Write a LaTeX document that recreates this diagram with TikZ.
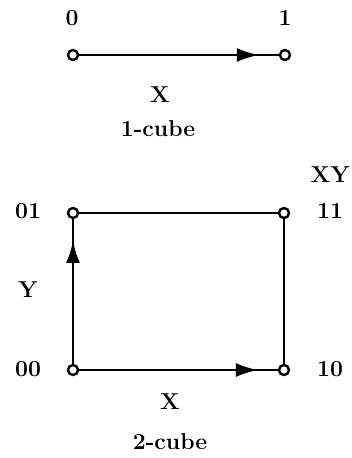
\documentclass[tikz,border=0pt]{standalone}
\usetikzlibrary{arrows.meta,decorations.markings}

\begin{document}
\begin{tikzpicture}[
    x=1pt, y=-1pt,
    font=\fontsize{23}{27}\selectfont\bfseries,
    vtx/.style={draw, circle, line width=2.4pt, fill=white, inner sep=0pt,
                minimum size=10pt},
    lbl/.style={inner sep=1pt},
    edge/.style={line width=2.4pt},
    arr/.style={edge, postaction={decorate}, decoration={markings,
                mark=at position #1 with {\arrow{Latex[length=22pt,width=14pt]}}}}
  ]
  \useasboundingbox (0,0) rectangle (352,458);
  % 1-cube
  \node[vtx] (a0) at (73,55) {};
  \node[vtx] (a1) at (285,55) {};
  \node[lbl] (la0) at (72,18) {0};
  \node[lbl] (la1) at (285,18) {1};
  \draw[arr=0.9] (a0) -- (a1);
  \node[lbl] (ax) at (160,95) {X};
  \node[lbl] (c1) at (158,129) {1-cube};
  % 2-cube
  \node[vtx] (b01) at (73,213) {};
  \node[vtx] (b11) at (284,213) {};
  \node[vtx] (b00) at (73,370) {};
  \node[vtx] (b10) at (284,370) {};
  \node[lbl] (l01) at (28,211) {01};
  \node[lbl] (l11) at (330,211) {11};
  \node[lbl] (l00) at (28,369) {00};
  \node[lbl] (l10) at (330,369) {10};
  \node[lbl, anchor=east] (lxy) at (351,175) {XY};
  \node[lbl] (ly) at (28,290) {Y};
  \node[lbl] (bx) at (170,402) {X};
  \node[lbl] (c2) at (170,442) {2-cube};
  \draw[edge] (b01) -- (b11);
  \draw[edge] (b11) -- (b10);
  \draw[arr=0.85] (b00) -- (b01);
  \draw[arr=0.9] (b00) -- (b10);
\end{tikzpicture}
\end{document}
